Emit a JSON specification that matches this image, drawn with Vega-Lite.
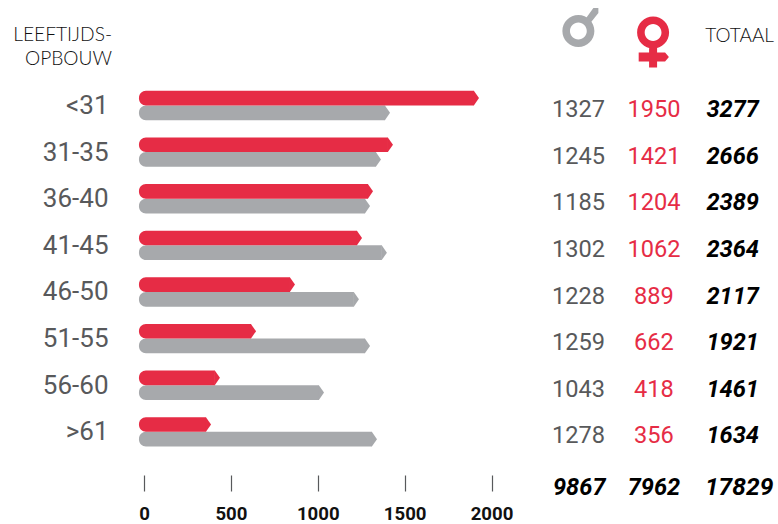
{
"$schema":"https://vega.github.io/schema/vega-lite/v6.json",
"width":778,"height":475,
"autosize":{"type":"none"},
"padding":{"left":0,"top":0,"right":0,"bottom":49},
"background":"white",
"config":{"view":{"stroke":null},"text":{"font":"Roboto"}},
"datasets":{
"rows":[
{"age":"<31","male":1327,"female":1950,"total":3277,"maleBar":1416,"femaleBar":1928},
{"age":"31-35","male":1245,"female":1421,"total":2666,"maleBar":1364,"femaleBar":1433},
{"age":"36-40","male":1185,"female":1204,"total":2389,"maleBar":1301,"femaleBar":1318},
{"age":"41-45","male":1302,"female":1062,"total":2364,"maleBar":1398,"femaleBar":1255},
{"age":"46-50","male":1228,"female":889,"total":2117,"maleBar":1237,"femaleBar":869},
{"age":"51-55","male":1259,"female":662,"total":1921,"maleBar":1301,"femaleBar":645},
{"age":"56-60","male":1043,"female":418,"total":1461,"maleBar":1036,"femaleBar":437},
{"age":">61","male":1278,"female":356,"total":1634,"maleBar":1341,"femaleBar":386}
],
"totals":[{"age":"Totaal","male":9867,"female":7962,"total":17829}],
"header":[{"age":"Header","label1":"LEEFTIJDS-","label2":"OPBOUW","totalLabel":"TOTAAL"}]
},
"encoding":{
"y":{"field":"age","type":"nominal","title":null,
"scale":{"type":"point","domain":["Header","<31","31-35","36-40","41-45","46-50","51-55","56-60",">61","Totaal"],"range":[58.8,478.4],"padding":0},
"axis":{"orient":"left","offset":-108,"values":["<31","31-35","36-40","41-45","46-50","51-55","56-60",">61"],"domain":false,"ticks":false,"labelPadding":0,"labelFont":"Roboto","labelFontSize":26,"labelColor":"#58595b","grid":false}}
},
"layer":[
{"data":{"name":"rows"},"mark":{"type":"bar","height":14.7,"yOffset":7.4,"color":"#a7a9ac","cornerRadiusTopLeft":7,"cornerRadiusBottomLeft":7,"xOffset":-5},
"encoding":{"x":{"field":"maleBar","type":"quantitative","title":null,"stack":null,
"scale":{"domain":[0,2000],"range":[144,491.5],"nice":false,"zero":false,"clamp":false},
"axis":{"orient":"bottom","values":[0,500,1000,1500,2000],"domain":false,"grid":false,"tickSize":16,"tickColor":"#58595b","tickWidth":1.2,"labelPadding":22.5,"labelFont":"Roboto","labelFontWeight":"bold","labelFontSize":18.6,"labelColor":"#111111","labelBaseline":"middle","labelFlush":false,"format":"d"}},
"x2":{"datum":-29}}},
{"data":{"name":"rows"},"mark":{"type":"bar","height":14.7,"yOffset":-7.3,"color":"#e62c45","cornerRadiusTopLeft":7,"cornerRadiusBottomLeft":7,"xOffset":-5},
"encoding":{"x":{"field":"femaleBar","type":"quantitative","stack":null},"x2":{"datum":-29}}},
{"data":{"name":"rows"},"mark":{"type":"point","filled":true,"opacity":1,"yOffset":7.4,"color":"#a7a9ac","size":216,"shape":"M-0.7,-1L0,0L-0.7,1Z"},
"encoding":{"x":{"field":"maleBar","type":"quantitative"}}},
{"data":{"name":"rows"},"mark":{"type":"point","filled":true,"opacity":1,"yOffset":-7.3,"color":"#e62c45","size":216,"shape":"M-0.7,-1L0,0L-0.7,1Z"},
"encoding":{"x":{"field":"femaleBar","type":"quantitative"}}},
{"data":{"name":"rows"},"mark":{"type":"text","font":"Roboto","fontSize":23.6,"color":"#58595b","yOffset":4.6},
"encoding":{"x":{"datum":2501,"type":"quantitative"},"text":{"field":"male","type":"quantitative","format":"d"}}},
{"data":{"name":"rows"},"mark":{"type":"text","font":"Roboto","fontSize":23.6,"color":"#e62c45","yOffset":4.6},
"encoding":{"x":{"datum":2935,"type":"quantitative"},"text":{"field":"female","type":"quantitative","format":"d"}}},
{"data":{"name":"rows"},"mark":{"type":"text","font":"Roboto","fontSize":23.6,"fontWeight":"bold","fontStyle":"italic","color":"#000000","yOffset":4.6},
"encoding":{"x":{"datum":3388,"type":"quantitative"},"text":{"field":"total","type":"quantitative","format":"d"}}},
{"data":{"name":"totals"},"mark":{"type":"text","font":"Roboto","fontSize":23.6,"fontWeight":"bold","fontStyle":"italic","color":"#000000","yOffset":10},
"encoding":{"x":{"datum":2505,"type":"quantitative"},"text":{"field":"male","type":"quantitative","format":"d"}}},
{"data":{"name":"totals"},"mark":{"type":"text","font":"Roboto","fontSize":23.6,"fontWeight":"bold","fontStyle":"italic","color":"#000000","yOffset":10},
"encoding":{"x":{"datum":2935,"type":"quantitative"},"text":{"field":"female","type":"quantitative","format":"d"}}},
{"data":{"name":"totals"},"mark":{"type":"text","font":"Roboto","fontSize":24.6,"fontWeight":"bold","fontStyle":"italic","color":"#000000","yOffset":10},
"encoding":{"x":{"datum":3425,"type":"quantitative"},"text":{"field":"total","type":"quantitative","format":"d"}}},
{"data":{"name":"header"},"mark":{"type":"text","font":"Lato","fontWeight":300,"fontSize":19.2,"color":"#111111","align":"right","yOffset":-24},
"encoding":{"x":{"datum":-184,"type":"quantitative"},"text":{"field":"label1"}}},
{"data":{"name":"header"},"mark":{"type":"text","font":"Lato","fontWeight":300,"fontSize":19.2,"color":"#111111","align":"right","yOffset":0},
"encoding":{"x":{"datum":-184,"type":"quantitative"},"text":{"field":"label2"}}},
{"data":{"name":"header"},"mark":{"type":"text","font":"Lato","fontWeight":300,"fontSize":19,"color":"#111111","yOffset":-23},
"encoding":{"x":{"datum":3428,"type":"quantitative"},"text":{"field":"totalLabel"}}},
{"data":{"name":"header"},"mark":{"type":"point","filled":true,"opacity":1,"color":"#a7a9ac","size":1600,"yOffset":-27.8,
"shape":"M0.8,0A0.8,0.8,0,1,1,-0.8,0A0.8,0.8,0,1,1,0.8,0ZM0.42,0A0.42,0.42,0,1,0,-0.42,0A0.42,0.42,0,1,0,0.42,0ZM0.35,-0.6L0.75,-1.15L1,-1.15L1,-0.9L0.6,-0.4Z"},
"encoding":{"x":{"datum":2500,"type":"quantitative"}}},
{"data":{"name":"header"},"mark":{"type":"point","filled":true,"opacity":1,"color":"#e62c45","size":1600,"yOffset":-26.3,
"shape":"M0.8,0A0.8,0.8,0,1,1,-0.8,0A0.8,0.8,0,1,1,0.8,0ZM0.42,0A0.42,0.42,0,1,0,-0.42,0A0.42,0.42,0,1,0,0.42,0ZM-0.2,0.7L0.2,0.7L0.2,1L0.6,1L0.79,1.22L0.6,1.45L0.2,1.45L0.2,1.75L-0.2,1.75L-0.2,1.45L-0.72,1.45L-0.72,1L-0.2,1Z"},
"encoding":{"x":{"datum":2930,"type":"quantitative"}}}
]
}
